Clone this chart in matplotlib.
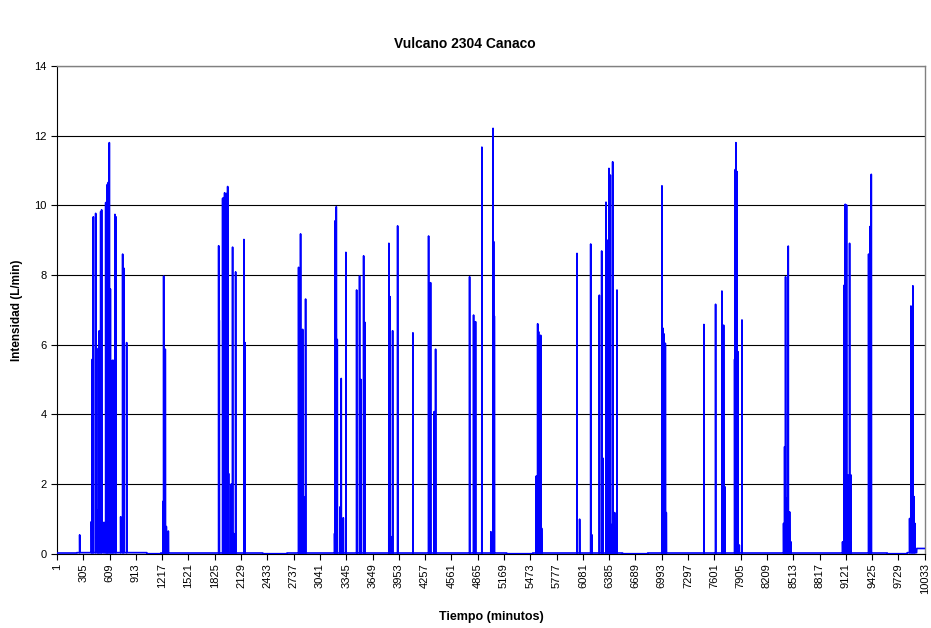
import numpy as np
import matplotlib.pyplot as plt

plt.rcParams['font.family'] = ['Liberation Sans', 'DejaVu Sans']

# minute at which each flow burst peaks, and the reading there (L/min)
spike_min = [263, 398, 409, 421, 448, 467, 479, 490, 506, 517, 544, 564, 575, 583,
             594, 606, 618, 629, 641, 652, 671, 683, 737, 760, 772, 806,
             1226, 1234, 1242, 1253, 1265, 1288,
             1870, 1877, 1916, 1927, 1939, 1951, 1962, 1974, 1985, 2016, 2031,
             2043, 2066, 2162, 2174,
             2794, 2817, 2829, 2841, 2852, 2875,
             3210, 3218, 3230, 3241, 3276, 3287, 3311, 3341,
             3465, 3499, 3515, 3546, 3561, 3838, 3850, 3862, 3881, 3939,
             4116, 4297, 4320, 4362, 4378, 4771, 4817, 4840, 4913, 5017,
             5042, 5049, 5057, 5542, 5558, 5569, 5593, 5604,
             6013, 6043, 6171, 6186, 6271, 6298, 6313, 6348, 6363, 6382,
             6398, 6406, 6425, 6448, 6475,
             6995, 7007, 7018, 7034, 7045, 7480, 7615, 7688, 7708, 7723,
             7835, 7843, 7850, 7862, 7873, 7889, 7920,
             8401, 8413, 8424, 8440, 8455, 8471, 8486,
             9083, 9103, 9114, 9129, 9145, 9164, 9180, 9384, 9399, 9415,
             9858, 9873, 9885, 9896, 9908, 9919]
spike_val = [0.54, 0.92, 5.58, 9.67, 9.77, 1.25, 5.9, 6.4, 9.82, 9.87, 0.9, 10.08, 3.55, 10.6,
             10.66, 11.8, 7.6, 3.8, 5.55, 5.55, 9.74, 9.67, 1.06, 8.6, 8.2, 6.06,
             1.5, 7.97, 2.5, 5.87, 0.78, 0.65,
             8.84, 6.7, 10.2, 10.22, 10.36, 2.3, 10.34, 10.54, 2.3, 2.0, 8.8,
             0.58, 8.09, 9.02, 6.06,
             8.22, 9.18, 3.26, 6.44, 1.64, 7.31,
             0.58, 9.56, 9.96, 6.15, 1.35, 5.03, 1.03, 8.65,
             7.57, 7.97, 5.0, 8.55, 6.64, 8.91, 7.38, 0.49, 6.4, 9.41,
             6.34, 9.12, 7.78, 4.08, 5.87, 7.95, 6.85, 6.66, 11.67, 0.63,
             12.21, 8.96, 6.82, 2.23, 6.6, 6.37, 6.27, 0.73,
             8.62, 0.99, 8.89, 0.54, 7.42, 8.69, 2.74, 10.09, 9.0, 11.06,
             10.87, 0.84, 11.25, 1.18, 7.57,
             10.56, 6.47, 6.31, 6.04, 1.18, 6.58, 7.16, 7.54, 6.56, 1.92,
             5.58, 11.03, 11.8, 10.97, 5.8, 0.25, 6.71,
             0.87, 3.07, 7.95, 1.59, 8.83, 1.2, 0.34,
             0.34, 7.71, 10.03, 10.01, 2.26, 8.91, 2.26, 8.6, 9.39, 10.89,
             1.01, 7.11, 7.09, 7.69, 1.64, 0.87]

# resting level between bursts: each level holds from its start minute to the next
base_start = [1, 230, 1040, 1200, 2380, 2660, 5200, 5500, 6540, 6830, 9600, 9830, 9940]
base_level = [0.02, 0.03, 0.0, 0.02, 0.0, 0.02, 0.0, 0.02, 0.0, 0.02, 0.0, 0.03, 0.15]

n_minutes = 10036
tick_labels = [str(v) for v in range(1, n_minutes + 1, 304)]

minutes = np.arange(1, n_minutes + 1)
flow = np.zeros(n_minutes)
bounds = base_start + [n_minutes + 1]
for i, lvl in enumerate(base_level):
    flow[bounds[i] - 1:bounds[i + 1] - 1] = lvl
for m, v in zip(spike_min, spike_val):
    flow[m - 1] = v

fig = plt.figure(figsize=(9.31, 6.28), dpi=100)
ax = fig.add_axes([57 / 931, 74.3 / 628, 868 / 931, 487.7 / 628])

ax.plot(minutes, flow, color='#0000ff', linewidth=1.2, zorder=3)

ax.set_xlim(1, n_minutes)
ax.set_ylim(0, 14)
ax.set_yticks(range(0, 15, 2))
ax.set_xticks([int(t) for t in tick_labels])
ax.set_xticklabels(tick_labels, rotation=90, fontsize=8)
ax.tick_params(axis='y', labelsize=8, direction='out', length=4, width=0.8)
ax.tick_params(axis='x', direction='out', length=4, width=0.8, pad=3)

ax.yaxis.grid(True, color='black', linewidth=0.8)
ax.set_axisbelow(True)
for side in ['top', 'right']:
    ax.spines[side].set_color('#808080')
    ax.spines[side].set_linewidth(1.0)
for side in ['left', 'bottom']:
    ax.spines[side].set_color('black')
    ax.spines[side].set_linewidth(0.8)

fig.text(465 / 931, 1 - 44 / 628, 'Vulcano 2304 Canaco', ha='center', va='center',
         fontsize=10, fontweight='bold')
fig.text(17 / 931, 1 - 310 / 628, 'Intensidad (L/min)', ha='center', va='center',
         rotation=90, fontsize=8.5, fontweight='bold')
fig.text(491 / 931, 1 - 617 / 628, 'Tiempo (minutos)', ha='center', va='center',
         fontsize=9, fontweight='bold')

fig.savefig('out.png', dpi=100)
